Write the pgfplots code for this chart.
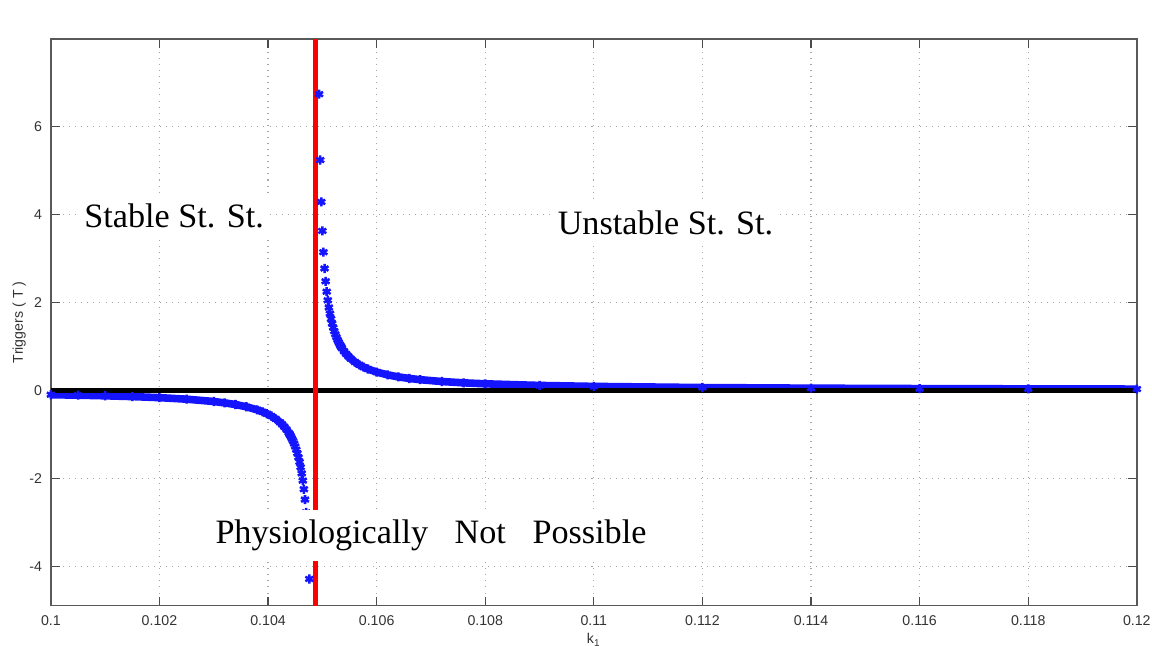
\documentclass[border=0pt]{standalone}
\usepackage{fontspec}
\setmainfont{Liberation Serif}
\setsansfont{Liberation Sans}
\usepackage{pgfplots}
\pgfplotsset{compat=1.18}
\begin{document}
\begin{tikzpicture}
\begin{axis}[
  set layers,
  scale only axis,
  width=15.08cm, height=7.87cm,
  xmin=0, xmax=20, ymin=-4.9, ymax=8,
  xtick={0,2,4,6,8,10,12,14,16,18,20},
  xticklabels={0.1,0.102,0.104,0.106,0.108,0.11,0.112,0.114,0.116,0.118,0.12},
  ytick={-4,-2,0,2,4,6},
  yticklabels={-4,-2,0,2,4,6},
  grid=major,
  major grid style={gray!70, dotted, line width=0.5pt},
  tick align=inside,
  major tick length=3.5pt,
  tick style={black!70, line width=0.5pt},
  axis line style={black!65, line width=0.6pt},
  ticklabel style={font=\sffamily\fontsize{5.6}{6.5}\selectfont, black!80},
  /pgf/number format/assume math mode=true,
  xticklabel style={yshift=-0.5pt},
  xlabel={k\textsubscript{1}},
  ylabel={Triggers ( T )},
  label style={font=\sffamily\fontsize{5.6}{6.5}\selectfont, black!80},
  xlabel style={yshift=4pt},
  ylabel style={yshift=-5.5pt},
]
% blue data: band part (overlapping markers)
\addplot[color={rgb,255:red,20;green,20;blue,255}, line width=3pt, mark=asterisk, mark size=1.8pt, mark options={line width=1pt}] coordinates {
(5.34,1.004) (5.36,0.963) (5.40,0.891) (5.44,0.828) (5.48,0.774) (5.52,0.726) (5.60,0.647) (5.68,0.583) (5.76,0.530) (5.84,0.487) (6.00,0.418) (6.20,0.355) (6.40,0.308) (6.60,0.273) (6.80,0.245) (7.20,0.203) (7.60,0.173) (8.00,0.151) (9.00,0.114) (10.00,0.092) (12.00,0.066) (14.00,0.0517) (16.00,0.0424) (18.00,0.0359) (20.00,0.0312)
};
\addplot[color={rgb,255:red,20;green,20;blue,255}, line width=3pt, mark=asterisk, mark size=1.8pt, mark options={line width=1pt}] coordinates {
(0.00,-0.097) (0.50,-0.108) (1.00,-0.122) (1.50,-0.140) (2.00,-0.164) (2.50,-0.199) (3.00,-0.252) (3.20,-0.283) (3.40,-0.321) (3.60,-0.372) (3.80,-0.441) (3.90,-0.487) (3.98,-0.530) (4.06,-0.583) (4.14,-0.647) (4.22,-0.726) (4.26,-0.774) (4.30,-0.828) (4.34,-0.891) (4.38,-0.963) (4.40,-1.004)
};
% blue data: separated markers near the asymptote
\addplot[only marks, color={rgb,255:red,20;green,20;blue,255}, mark=asterisk, mark size=1.8pt, mark options={line width=1pt}] coordinates {
(4.94,6.743) (4.96,5.244) (4.98,4.291) (5.00,3.631) (5.02,3.147) (5.04,2.776) (5.06,2.484) (5.08,2.248) (5.10,2.052) (5.12,1.888) (5.14,1.748) (5.16,1.628) (5.18,1.523) (5.20,1.430) (5.22,1.349) (5.24,1.276) (5.26,1.210) (5.28,1.151) (5.30,1.098) (5.32,1.049) (5.34,1.004)
(4.76,-4.291) (4.74,-3.631) (4.72,-3.147) (4.70,-2.776) (4.68,-2.484) (4.66,-2.248) (4.64,-2.052) (4.62,-1.888) (4.60,-1.748) (4.58,-1.628) (4.56,-1.523) (4.54,-1.430) (4.52,-1.349) (4.50,-1.276) (4.48,-1.210) (4.46,-1.151) (4.44,-1.098) (4.42,-1.049) (4.40,-1.004)
};
% zero line
\addplot[black, line width=2pt, mark=none] coordinates {(0,0) (20,0)};
% asymptote
\addplot[red, line width=2pt, mark=none] coordinates {(4.87,-4.9) (4.87,8)};
% annotations
\begin{pgfonlayer}{axis foreground}
\node[font=\fontsize{13.5}{16}\selectfont, fill=white, inner xsep=2pt, inner ysep=3pt] at (axis cs:2.27,3.98) {Stable St. St.};
\node[font=\fontsize{13.5}{16}\selectfont, fill=white, inner xsep=2pt, inner ysep=3pt] at (axis cs:11.32,3.82) {Unstable St. St.};
\node[font=\fontsize{13.5}{16}\selectfont, fill=white, inner xsep=2pt, inner ysep=4pt] at (axis cs:7.0,-3.30) {Physiologically\hspace{10.5pt}Not\hspace{10.5pt}Possible};
\end{pgfonlayer}
\node[anchor=south west, inner sep=0pt, font=\sffamily\fontsize{5.6}{6.5}\selectfont, black!80, yshift=3pt] at (rel axis cs:0,1) {x 10\textsuperscript{4}};
\coordinate (ll) at (rel axis cs:0,0);
\coordinate (ur) at (rel axis cs:1,1);
\end{axis}
\pgfresetboundingbox
\path[use as bounding box] ([shift={(-20.1pt,-15.7pt)}]ll) rectangle ([shift={(6pt,15.4pt)}]ur);
\end{tikzpicture}
\end{document}
